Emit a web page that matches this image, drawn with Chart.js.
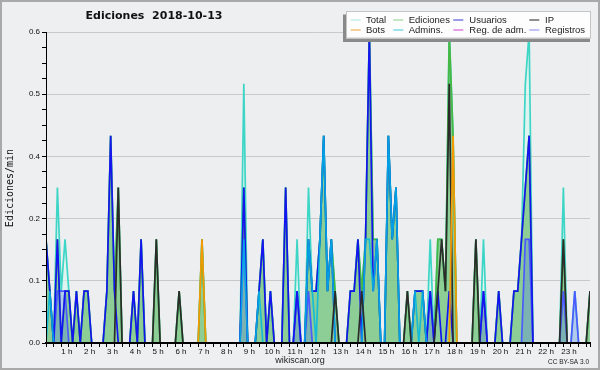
<!DOCTYPE html>
<html>
<head>
<meta charset="utf-8">
<script src="https://cdn.jsdelivr.net/npm/chart.js@4/dist/chart.umd.min.js"></script>
<style>
html,body{margin:0;padding:0;background:#eeeff1;}
canvas{display:block;}
</style>
</head>
<body>
<canvas id="c" width="600" height="370" style="width:600px;height:370px"></canvas>
<script>
// ---- data: one value every 10 minutes (144 points), edits per minute ----
const chartTitle = 'Ediciones  2018-10-13';
const yTitle = 'Ediciones/min';
const hourLabels = ['1 h','2 h','3 h','4 h','5 h','6 h','7 h','8 h','9 h','10 h','11 h','12 h',
                    '13 h','14 h','15 h','16 h','17 h','18 h','19 h','20 h','21 h','22 h','23 h'];
const yTickLabels = ['0.0','0.1','0.2','0.4','0.5','0.6'];
const seriesNames = ['Total','Ediciones','Usuarios','IP','Bots','Admins.','Reg. de adm.','Registros'];

const total = [
  .2,.1,0,.3,.1,.2, .1,0,.1,0,.1,.1,
  0,0,0,0,.1,.4, .1,.3,0,0,0,.1,
  0,.2,0,0,0,.2, 0,0,0,0,0,.1,
  0,0,0,0,0,.2, 0,0,0,0,0,0,
  0,0,0,0,.5,0, 0,0,.1,.2,0,.1,
  0,0,0,.3,0,0, .2,0,0,.3,.1,.1,
  .2,.4,.1,.2,.1,0, 0,0,.1,.1,.2,.1,
  .2,.6,.2,.2,0,0, .4,.2,.3,0,0,.1,
  0,.1,.1,.1,0,.2, 0,.2,.2,.1,.6,.4,
  0,0,0,0,0,.2, 0,.2,0,0,0,.1,
  0,0,0,.1,.1,.2, .5,.6,0,0,0,0,
  0,0,0,0,.3,0, 0,.1,0,0,0,.1
];
const ediciones = [
  .2,.1,0,.2,0,.1, .1,0,.1,0,.1,.1,
  0,0,0,0,.1,.4, .1,.3,0,0,0,.1,
  0,.2,0,0,0,.2, 0,0,0,0,0,.1,
  0,0,0,0,0,.2, 0,0,0,0,0,0,
  0,0,0,0,.3,0, 0,0,.1,.2,0,.1,
  0,0,0,.3,0,0, .1,0,0,.2,.1,.1,
  .2,.4,.1,.2,.1,0, 0,0,.1,.1,.2,.1,
  .2,.6,.2,.2,0,0, .4,.2,.3,0,0,.1,
  0,.1,.1,.1,0,.1, 0,.2,.2,.1,.6,.4,
  0,0,0,0,0,.2, 0,.1,0,0,0,.1,
  0,0,0,.1,.1,.2, .3,.4,0,0,0,0,
  0,0,0,0,.2,0, 0,0,0,0,0,.1
];
const usuarios = [
  .2,.1,0,.2,0,.1, .1,0,.1,0,.1,.1,
  0,0,0,0,.1,.4, .1,0,0,0,0,.1,
  0,.2,0,0,0,0, 0,0,0,0,0,0,
  0,0,0,0,0,0, 0,0,0,0,0,0,
  0,0,0,0,.3,0, 0,0,.1,.2,0,.1,
  0,0,0,.3,0,0, .1,0,0,.2,.1,.1,
  .2,.4,.1,.2,0,0, 0,0,.1,.1,.2,0,
  .2,.6,.1,.2,0,0, .4,.2,.3,0,0,0,
  0,.1,.1,.1,0,.1, 0,.1,0,0,.1,0,
  0,0,0,0,0,0, 0,.1,0,0,0,.1,
  0,0,0,.1,.1,.2, .3,.4,0,0,0,0,
  0,0,0,0,0,0, 0,0,0,0,0,0
];
const ip = [
  0,0,0,0,0,0, 0,0,0,0,0,0,
  0,0,0,0,0,0, 0,.3,0,0,0,0,
  0,0,0,0,0,.2, 0,0,0,0,0,.1,
  0,0,0,0,0,0, 0,0,0,0,0,0,
  0,0,0,0,0,0, 0,0,0,0,0,0,
  0,0,0,0,0,0, 0,0,0,0,0,0,
  0,0,0,0,.1,0, 0,0,0,0,0,.1,
  0,0,0,0,0,0, 0,0,0,0,0,.1,
  0,0,0,0,0,0, 0,.1,.2,.1,.5,0,
  0,0,0,0,0,.2, 0,0,0,0,0,0,
  0,0,0,0,0,0, 0,0,0,0,0,0,
  0,0,0,0,.2,0, 0,0,0,0,0,.1
];
const bots = [
  0,0,0,0,0,0, 0,0,0,0,0,0,
  0,0,0,0,0,0, 0,0,0,0,0,0,
  0,0,0,0,0,0, 0,0,0,0,0,0,
  0,0,0,0,0,.2, 0,0,0,0,0,0,
  0,0,0,0,0,0, 0,0,0,0,0,0,
  0,0,0,0,0,0, 0,0,0,0,0,0,
  0,0,0,0,0,0, 0,0,0,0,0,0,
  0,0,0,0,0,0, 0,0,0,0,0,0,
  0,0,0,0,0,0, 0,0,0,0,0,.4,
  0,0,0,0,0,0, 0,0,0,0,0,0,
  0,0,0,0,0,0, 0,0,0,0,0,0,
  0,0,0,0,0,0, 0,0,0,0,0,0
];
const admins = [
  0,.1,0,0,0,0, 0,0,0,0,0,0,
  0,0,0,0,0,0, 0,0,0,0,0,0,
  0,0,0,0,0,0, 0,0,0,0,0,0,
  0,0,0,0,0,0, 0,0,0,0,0,0,
  0,0,0,0,.2,0, 0,0,.1,0,0,0,
  0,0,0,0,0,0, 0,0,0,.2,.1,0,
  .2,.4,.1,.2,0,0, 0,0,0,0,0,0,
  .2,.2,.1,.2,0,0, .4,.2,.3,0,0,0,
  0,.1,0,.1,0,0, 0,0,0,0,0,0,
  0,0,0,0,0,0, 0,0,0,0,0,0,
  0,0,0,0,0,0, 0,0,0,0,0,0,
  0,0,0,0,0,0, 0,0,0,0,0,0
];
const regAdm = [
  0,0,0,0,0,0, 0,0,0,0,0,0,
  0,0,0,0,0,0, 0,0,0,0,0,0,
  0,0,0,0,0,0, 0,0,0,0,0,0,
  0,0,0,0,0,0, 0,0,0,0,0,0,
  0,0,0,0,0,0, 0,0,0,0,0,0,
  0,0,0,0,0,0, 0,0,0,0,0,0,
  0,0,0,0,0,0, 0,0,0,0,0,0,
  0,0,0,0,0,0, 0,0,0,0,0,0,
  0,0,0,0,0,0, 0,0,0,0,0,0,
  0,0,0,0,0,0, 0,0,0,0,0,0,
  0,0,0,0,0,0, 0,0,0,0,0,0,
  0,0,0,0,0,0, 0,0,0,0,0,0
];
const registros = [
  0,0,0,.1,.1,.1, 0,0,0,0,0,0,
  0,0,0,0,0,0, 0,0,0,0,0,0,
  0,0,0,0,0,0, 0,0,0,0,0,0,
  0,0,0,0,0,0, 0,0,0,0,0,0,
  0,0,0,0,.2,0, 0,0,0,0,0,0,
  0,0,0,0,0,0, .1,0,0,.1,0,0,
  0,0,0,0,0,0, 0,0,0,0,0,0,
  0,0,0,0,0,0, 0,0,0,0,0,0,
  0,0,0,0,0,.1, 0,0,0,0,0,0,
  0,0,0,0,0,0, 0,.1,0,0,0,0,
  0,0,0,0,0,0, .2,.2,0,0,0,0,
  0,0,0,0,.1,0, 0,.1,0,0,0,0
];

// ---- styling ----
const lineColors = ['#3dd6c6','#45b845','#1414f0','#2b2b2b','#f59a00','rgba(0,185,225,0.85)','#d040d0','#4b5bff'];
const legendColors = ['#a8e8e0','#88d088','#3838d8','#222222','#f0a030','#40c8e0','#d040d0','#8888f0'];

const toPts = arr => arr.map((v, i) => ({x: i, y: v}));
function makeDs(idx, arr, order, extra) {
  return Object.assign({
    label: seriesNames[idx], data: toPts(arr), borderColor: lineColors[idx],
    borderWidth: 1.7, pointRadius: 0, fill: false, tension: 0, order: order
  }, extra || {});
}

const datasets = [
  makeDs(0, total, 10, {fill: 'origin', backgroundColor: 'rgba(215,246,240,0.6)'}),
  makeDs(1, ediciones, 9, {fill: 'origin', backgroundColor: 'rgba(60,170,60,0.5)'}),
  makeDs(7, registros, 8, {fill: 'origin', backgroundColor: 'rgba(90,130,230,0.35)'}),
  makeDs(2, usuarios, 6),
  makeDs(5, admins, 5),
  makeDs(3, ip, 4),
  makeDs(4, bots, 3),
  makeDs(6, regAdm, 2, {borderWidth: 1})
];

const decor = {
  id: 'decor',
  beforeDraw(chart) {
    const c = chart.ctx, a = chart.chartArea;
    c.save();
    c.fillStyle = '#eeeff1';
    c.fillRect(0, 0, 600, 370);
    c.fillStyle = '#eceef0';
    c.fillRect(a.left, a.top, a.right - a.left, a.bottom - a.top);
    c.restore();
  },
  afterDraw(chart) {
    const c = chart.ctx;
    c.save();
    // title
    c.fillStyle = '#111';
    c.font = 'bold 11px "DejaVu Sans"';
    c.textAlign = 'center'; c.textBaseline = 'middle';
    c.fillText(chartTitle, 154, 16);
    // y title
    c.save();
    c.translate(10, 188); c.rotate(-Math.PI / 2);
    c.font = '10px "DejaVu Sans Mono"';
    c.fillText(yTitle, 0, 0);
    c.restore();
    // footer
    c.font = '9px "Liberation Sans"';
    c.fillStyle = '#222';
    c.fillText('wikiscan.org', 300, 361);
    c.font = '6.5px "Liberation Sans"';
    c.textAlign = 'right';
    c.fillText('CC BY-SA 3.0', 589, 362);
    // legend box with shadow
    c.fillStyle = '#8a8a8a';
    c.fillRect(343, 14.5, 247, 27.5);
    c.fillStyle = '#fdfdfd';
    c.fillRect(346, 11.5, 245, 27);
    c.strokeStyle = '#c4c4c4'; c.lineWidth = 1;
    c.strokeRect(346.5, 11.5, 244, 26.5);
    const sx = [350.7, 393.3, 453.3, 529.3], tx = [366, 408.7, 469.3, 545], ry = [19.5, 29.5];
    c.font = '9.5px "Liberation Sans"';
    c.textAlign = 'left'; c.textBaseline = 'middle';
    for (let k = 0; k < 8; k++) {
      const col = k % 4, row = Math.floor(k / 4);
      c.strokeStyle = legendColors[k];
      c.beginPath(); c.moveTo(sx[col], ry[row] + 0.5); c.lineTo(sx[col] + 10, ry[row] + 0.5); c.stroke();
      c.fillStyle = '#222';
      c.fillText(seriesNames[k], tx[col], ry[row] + 0.5);
    }
    // outer frame
    c.strokeStyle = '#a9a9a9'; c.lineWidth = 2;
    c.strokeRect(1, 1, 598, 368);
    c.restore();
  }
};

new Chart(document.getElementById('c'), {
  type: 'line',
  data: {datasets: datasets},
  options: {
    responsive: false, animation: false, devicePixelRatio: 1,
    layout: {padding: {left: 0, right: 10, top: 32, bottom: 0}},
    plugins: {legend: {display: false}, title: {display: false}, tooltip: {enabled: false}, filler: {propagate: false}},
    scales: {
      x: {
        type: 'linear', min: 0, max: 143,
        afterBuildTicks(scale) {
          const t = [];
          for (let v = 0; v <= 142; v += 2) t.push({value: v});
          t.push({value: 143});
          scale.ticks = t;
        },
        afterFit(scale) { scale.height = 27; },
        ticks: {
          autoSkip: false, maxRotation: 0, minRotation: 0, padding: 0, labelOffset: -2,
          color: '#111', font: {family: 'Liberation Sans', size: 8},
          callback: (v) => (v % 6 === 0 && v > 0 && v < 143) ? hourLabels[v / 6 - 1] : ''
        },
        grid: {drawOnChartArea: false, drawTicks: true, tickLength: 4, tickColor: '#000', color: '#000'},
        border: {color: '#000', width: 2, z: 1}
      },
      y: {
        min: 0, max: 0.6,
        afterBuildTicks(scale) {
          const t = [];
          for (let k = 0; k <= 20; k++) t.push({value: k * 0.03});
          scale.ticks = t;
        },
        afterFit(scale) { scale.width = 46; },
        ticks: {
          autoSkip: false, padding: 2, color: '#111', font: {family: 'Liberation Sans', size: 8},
          callback: (v, i) => (i % 4 === 0) ? yTickLabels[i / 4] : ''
        },
        grid: {
          drawTicks: true, tickLength: 4, tickColor: '#000',
          color: (ctx) => (ctx.index % 4 === 0 && ctx.index > 0) ? '#c9c9c9' : 'rgba(0,0,0,0)'
        },
        border: {color: '#000', width: 1, z: 1}
      }
    }
  },
  plugins: [decor]
});
</script>
</body>
</html>
